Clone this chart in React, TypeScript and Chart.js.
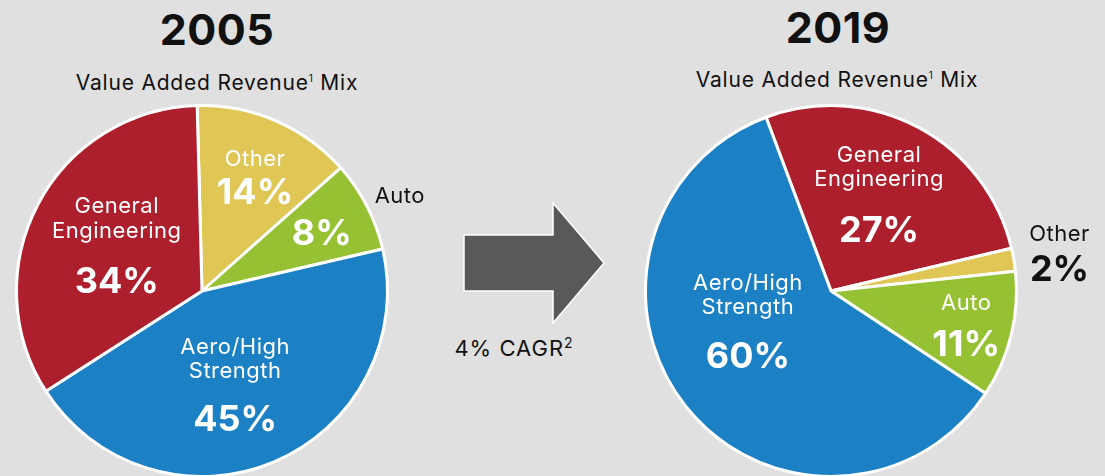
import React, { useEffect, useRef } from "react";
import { Chart, registerables } from "chart.js";

Chart.register(...registerables);

// ---- Data ----
const categories2005 = ["Other", "Auto", "Aero/High Strength", "General Engineering"];
const values2005 = [14, 8, 45, 34];
const categories2019 = ["General Engineering", "Other", "Auto", "Aero/High Strength"];
const values2019 = [27, 2, 11, 60];
const yearTitles = ["2005", "2019"];
const subtitleText = "Value Added Revenue";
const cagrText = "4% CAGR";

// ---- Styles ----
const BG = "#e0e0e0";
const RED = "#ad1f2d";
const YELLOW = "#dfc655";
const GREEN = "#95c132";
const BLUE = "#1b80c4";
const colorMap: Record<string, string> = {
  "Other": YELLOW,
  "Auto": GREEN,
  "Aero/High Strength": BLUE,
  "General Engineering": RED,
};
const nameLines: Record<string, string[]> = {
  "Other": ["Other"],
  "Auto": ["Auto"],
  "Aero/High Strength": ["Aero/High", "Strength"],
  "General Engineering": ["General", "Engineering"],
};
const FONT = "Inter, 'Noto Sans', sans-serif";

type LabelSpec = { f: number; offset: number; nameDy: number[]; pctDy: number; nameColor: string; pctColor: string; nameF?: number; nameOffset?: number };

const labels2005: LabelSpec[] = [
  { f: 0.69, offset: 1, nameDy: [-16.5], pctDy: 16.5, nameColor: "#fff", pctColor: "#fff" },
  { f: 0.72, offset: 1, nameDy: [2], pctDy: 0, nameColor: "#111", pctColor: "#fff", nameF: 1.19, nameOffset: 1 },
  { f: 0.46, offset: 0, nameDy: [-24, 0], pctDy: 48, nameColor: "#fff", pctColor: "#fff" },
  { f: 0.52, offset: 0, nameDy: [-41, -16], pctDy: 34, nameColor: "#fff", pctColor: "#fff" },
];
const labels2019: LabelSpec[] = [
  { f: 0.55, offset: 0, nameDy: [-47, -23], pctDy: 28, nameColor: "#fff", pctColor: "#fff" },
  { f: 1.25, offset: 0, nameDy: [-19], pctDy: 16, nameColor: "#111", pctColor: "#111" },
  { f: 0.75, offset: 0, nameDy: [-22], pctDy: 19, nameColor: "#fff", pctColor: "#fff" },
  { f: 0.455, offset: 28.3, nameDy: [-24, 0], pctDy: 49, nameColor: "#fff", pctColor: "#fff" },
];

const CAP = 0.727;

const sliceLabelPlugin = {
  id: "sliceLabels",
  afterDatasetsDraw(chart: any, _args: any, opts: any) {
    const specs: LabelSpec[] = opts.specs;
    const cats: string[] = opts.categories;
    const vals: number[] = opts.values;
    if (!specs) return;
    const ctx = chart.ctx;
    const meta = chart.getDatasetMeta(0);
    ctx.save();
    ctx.textAlign = "center";
    ctx.textBaseline = "alphabetic";
    meta.data.forEach((arc: any, i: number) => {
      const s = specs[i];
      const p = arc.getProps(["x", "y", "startAngle", "endAngle", "outerRadius"], true);
      const mid = (p.startAngle + p.endAngle) / 2;
      const a = mid + (s.offset * Math.PI) / 180;
      const ax = p.x + Math.cos(a) * p.outerRadius * s.f;
      const ay = p.y + Math.sin(a) * p.outerRadius * s.f;
      let nx = ax, ny = ay;
      if (s.nameF) {
        const na = mid + ((s.nameOffset || 0) * Math.PI) / 180;
        nx = p.x + Math.cos(na) * p.outerRadius * s.nameF;
        ny = p.y + Math.sin(na) * p.outerRadius * s.nameF;
      }
      const lines = nameLines[cats[i]];
      ctx.font = `400 22px ${FONT}`;
      ctx.letterSpacing = "0.5px";
      ctx.fillStyle = s.nameColor;
      lines.forEach((t, k) => {
        ctx.fillText(t, nx, ny + s.nameDy[k] + (22 * CAP) / 2);
      });
      ctx.font = `700 36px ${FONT}`;
      ctx.letterSpacing = "0px";
      ctx.fillStyle = s.pctColor;
      ctx.fillText(`${vals[i]}%`, ax, ay + s.pctDy + (36 * CAP) / 2);
    });
    ctx.restore();
  },
};

function PieChart(props: { categories: string[]; values: number[]; specs: LabelSpec[]; rotation: number; padding: any }) {
  const ref = useRef<HTMLCanvasElement | null>(null);
  useEffect(() => {
    if (!ref.current) return;
    const chart = new Chart(ref.current, {
      type: "pie",
      data: {
        labels: props.categories,
        datasets: [
          {
            data: props.values,
            backgroundColor: props.categories.map((c) => colorMap[c]),
            borderColor: "#ffffff",
            borderWidth: 3,
          },
        ],
      },
      options: {
        responsive: false,
        animation: false,
        rotation: props.rotation,
        layout: { padding: props.padding },
        plugins: {
          legend: { display: false },
          tooltip: { enabled: false },
          sliceLabels: { specs: props.specs, categories: props.categories, values: props.values },
        } as any,
      },
      plugins: [sliceLabelPlugin],
    });
    return () => chart.destroy();
  }, []);
  return (
    <canvas
      ref={ref}
      width={1105}
      height={500}
      style={{ position: "absolute", left: 0, top: 0, width: 1105, height: 500 }}
    />
  );
}

const textStyle = (x: number, y: number, size: number, weight: number, spacing = 0): React.CSSProperties => ({
  position: "absolute",
  left: x,
  top: y,
  transform: "translate(-50%, -50%)",
  fontFamily: FONT,
  fontSize: size,
  fontWeight: weight,
  letterSpacing: spacing,
  lineHeight: 1,
  whiteSpace: "nowrap",
  color: "#111",
});

export default function App() {
  return (
    <div
      style={{
        position: "fixed",
        left: 0,
        top: 0,
        width: 1105,
        height: 476,
        overflow: "hidden",
        background: BG,
      }}
    >
      <div style={textStyle(217, 29, 43, 700, 0.5)}>{yearTitles[0]}</div>
      <div style={textStyle(838, 27, 43, 700, 0.5)}>{yearTitles[1]}</div>
      <div style={textStyle(217, 82, 21, 400, 0.8)}>
        {subtitleText}
        <sup style={{ fontSize: 10, verticalAlign: "top", position: "relative", top: 1 }}>1</sup> Mix
      </div>
      <div style={textStyle(837, 79, 21, 400, 0.8)}>
        {subtitleText}
        <sup style={{ fontSize: 10, verticalAlign: "top", position: "relative", top: 1 }}>1</sup> Mix
      </div>
      <svg width={1105} height={476} style={{ position: "absolute", left: 0, top: 0 }}>
        <polygon
          points="464,235 553,235 553,203 604,263 553,323 553,291 464,291"
          fill="#595959"
          stroke="#ffffff"
          strokeWidth={1.5}
        />
      </svg>
      <div style={textStyle(514, 348, 22, 400, 1)}>
        {cagrText}
        <sup style={{ fontSize: 14, verticalAlign: "top", position: "relative", top: -1 }}>2</sup>
      </div>
      <PieChart
        categories={categories2005}
        values={values2005}
        specs={labels2005}
        rotation={-1.5}
        padding={{ left: 15, top: 104, right: 716, bottom: 22 }}
      />
      <PieChart
        categories={categories2019}
        values={values2019}
        specs={labels2019}
        rotation={-20.5}
        padding={{ left: 644, top: 104, right: 87, bottom: 22 }}
      />
    </div>
  );
}
